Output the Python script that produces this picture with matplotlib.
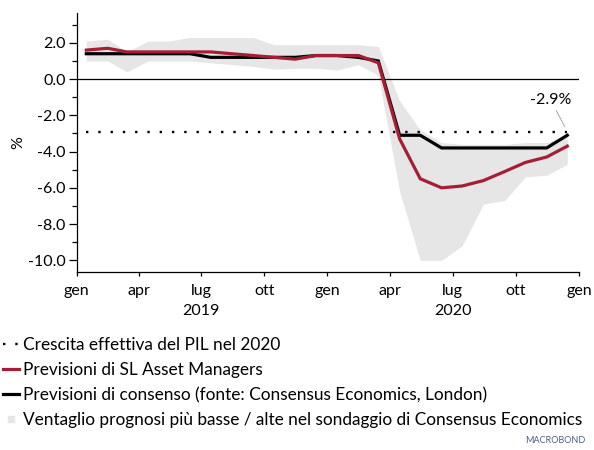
import numpy as np
import pandas as pd
import matplotlib
matplotlib.use("Agg")
import matplotlib.pyplot as plt
import matplotlib.dates as mdates
from matplotlib.lines import Line2D

plt.rcParams['font.family'] = ['Lato', 'DejaVu Sans']

# ---- data (monthly, Jan 2019 .. Dec 2020) ----
months = pd.date_range('2019-01-01', periods=24, freq='MS') + pd.Timedelta(days=14)
actual_2020 = [-2.9] * 24
sl_forecast = [1.6, 1.7, 1.5, 1.5, 1.5, 1.5, 1.5, 1.4, 1.3, 1.2, 1.1, 1.3,
               1.3, 1.3, 0.9, -3.3, -5.5, -6.0, -5.9, -5.6, -5.1, -4.6, -4.3, -3.7]
consensus = [1.4, 1.4, 1.4, 1.4, 1.4, 1.4, 1.2, 1.2, 1.2, 1.2, 1.2, 1.3,
             1.3, 1.2, 1.0, -3.1, -3.1, -3.8, -3.8, -3.8, -3.8, -3.8, -3.8, -3.1]
range_high = [2.1, 2.2, 1.5, 2.1, 2.1, 2.3, 2.3, 2.3, 2.3, 1.9, 1.9, 1.9,
              1.9, 1.9, 1.8, -1.2, -2.8, -3.5, -3.6, -3.6, -3.6, -3.5, -3.5, -3.1]
range_low = [1.0, 1.0, 0.4, 1.0, 1.0, 1.0, 0.9, 0.8, 0.7, 0.55, 0.6, 0.6,
             0.5, 0.8, 0.2, -6.2, -10.0, -10.0, -9.2, -6.9, -6.7, -5.4, -5.3, -4.7]
month_labels = ['gen', 'apr', 'lug', 'ott'] * 2 + ['gen']
year_labels = ['2019', '2020']
legend_labels = ['Crescita effettiva del PIL nel 2020',
                 'Previsioni di SL Asset Managers',
                 'Previsioni di consenso (fonte: Consensus Economics, London)',
                 'Ventaglio prognosi più basse / alte nel sondaggio di Consensus Economics']

RED = '#a51e36'
GREY = '#e6e6e6'

fig = plt.figure(figsize=(5.94, 4.5), dpi=100)
ax = fig.add_axes([0.1291, 0.3962, 0.9747 - 0.1291, 0.9704 - 0.3962])

ax.fill_between(months, range_low, range_high, color=GREY, lw=0, zorder=1)
ax.axhline(0, color='black', lw=0.9, zorder=2)
l_act, = ax.plot(months, actual_2020, color='black', lw=1.7,
                 linestyle=(0, (1, 4.2)), dash_capstyle='butt', zorder=4)
l_cons, = ax.plot(months, consensus, color='black', lw=2.3, zorder=3,
                  solid_joinstyle='miter')
l_sl, = ax.plot(months, sl_forecast, color=RED, lw=2.3, zorder=3,
                solid_joinstyle='miter')

ax.set_xlim(pd.Timestamp('2019-01-01'), pd.Timestamp('2021-01-01'))
ax.set_ylim(-10.63, 3.63)

ax.set_yticks(np.arange(-10, 3, 2))
ax.set_yticks(np.arange(-10, 4, 1), minor=True)
ax.yaxis.set_major_formatter(matplotlib.ticker.FormatStrFormatter('%.1f'))
ax.tick_params(axis='y', which='major', length=6, width=0.9, labelsize=11.5, pad=2)
ax.tick_params(axis='y', which='minor', length=3.5, width=0.9)

qticks = pd.date_range('2019-01-01', periods=9, freq='QS')
ax.set_xticks(qticks)
ax.set_xticklabels(month_labels)
ax.tick_params(axis='x', which='major', length=3, width=0.9, labelsize=11.5, pad=6)
ax.xaxis.set_minor_locator(matplotlib.ticker.NullLocator())

for sp in ['top', 'right']:
    ax.spines[sp].set_visible(False)
for sp in ['left', 'bottom']:
    ax.spines[sp].set_linewidth(0.9)

# year labels under "lug"
for yr, pos in zip(year_labels, [qticks[2], qticks[6]]):
    ax.annotate(yr, xy=(mdates.date2num(pos), 0), xycoords=('data', 'axes fraction'),
                xytext=(0, -23), textcoords='offset points', ha='center', va='top',
                fontsize=11.5)

ax.set_ylabel('%', fontsize=11.5, labelpad=2)

# annotation of -2.9%
ax.annotate('-2.9%', xy=(months[-1], actual_2020[-1]), xytext=(-12, 18),
            textcoords='offset points', ha='center', va='bottom', fontsize=11.5,
            arrowprops=dict(arrowstyle='-', color='#999999', lw=0.6,
                            shrinkA=1, shrinkB=4))

sq = Line2D([], [], marker='s', ls='none', color=GREY, markersize=4.5)
fig.legend([l_act, l_sl, l_cons, sq], legend_labels, loc='upper left',
           bbox_to_anchor=(0.005, 0.252), frameon=False, fontsize=12.4,
           handlelength=0.95, handletextpad=0.2, labelspacing=0.53,
           borderaxespad=0, borderpad=0)

fig.text(0.985, 0.012, 'MACROBOND', ha='right', va='bottom', fontsize=6.5,
         color='#4d5f80')

fig.savefig('out.png', dpi=100)
